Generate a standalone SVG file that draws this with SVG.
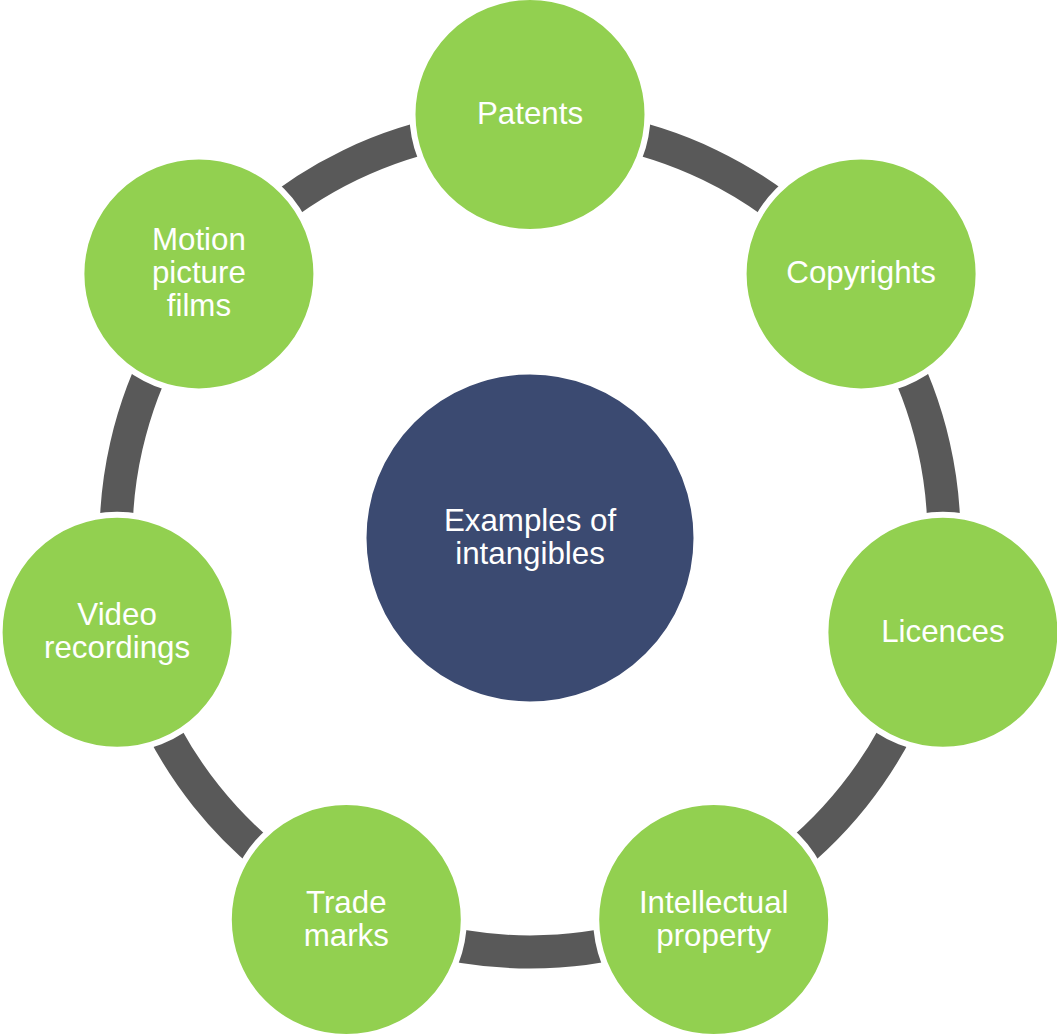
<svg xmlns="http://www.w3.org/2000/svg" width="1057" height="1035" viewBox="0 0 1057 1035">
<style>
.ring{fill:none;stroke:#595959;stroke-width:33;stroke-linecap:butt}
.node{fill:#92D050;stroke:#FFFFFF;stroke-width:6}
.hub{fill:#3B4A71;stroke:#FFFFFF;stroke-width:3}
.lbl{font-family:"Liberation Sans",Arial,sans-serif;font-size:31.3px;fill:#FFFFFF;text-anchor:middle}
</style>
<rect width="1057" height="1035" fill="#FFFFFF"/>
<g id="connectors">
<path class="ring" d="M601.9,130.3 A414,414 0 0 1 804.0,227.6"/>
<path class="ring" d="M893.6,340.0 A414,414 0 0 1 943.5,558.7"/>
<path class="ring" d="M911.5,698.8 A414,414 0 0 1 771.7,874.1"/>
<path class="ring" d="M642.1,936.5 A414,414 0 0 1 417.9,936.5"/>
<path class="ring" d="M288.3,874.1 A414,414 0 0 1 148.5,698.8"/>
<path class="ring" d="M116.5,558.7 A414,414 0 0 1 166.4,340.0"/>
<path class="ring" d="M256.0,227.6 A414,414 0 0 1 458.1,130.3"/>
</g>
<g id="hub">
<circle class="hub" cx="530" cy="538" r="165"/>
<text class="lbl" x="530" y="531">Examples of</text>
<text class="lbl" x="530" y="564">intangibles</text>
</g>
<g id="patents">
<circle class="node" cx="530" cy="114.5" r="117.5"/>
<text class="lbl" x="530" y="124">Patents</text>
</g>
<g id="copyrights">
<circle class="node" cx="861.1" cy="273.9" r="117.5"/>
<text class="lbl" x="861.1" y="283.4">Copyrights</text>
</g>
<g id="licences">
<circle class="node" cx="942.9" cy="632.2" r="117.5"/>
<text class="lbl" x="942.9" y="641.7">Licences</text>
</g>
<g id="intellectual-property">
<circle class="node" cx="713.7" cy="919.6" r="117.5"/>
<text class="lbl" x="713.7" y="912.6">Intellectual</text>
<text class="lbl" x="713.7" y="945.6">property</text>
</g>
<g id="trade-marks">
<circle class="node" cx="346.3" cy="919.6" r="117.5"/>
<text class="lbl" x="346.3" y="912.6">Trade</text>
<text class="lbl" x="346.3" y="945.6">marks</text>
</g>
<g id="video-recordings">
<circle class="node" cx="117.1" cy="632.2" r="117.5"/>
<text class="lbl" x="117.1" y="625.2">Video</text>
<text class="lbl" x="117.1" y="658.2">recordings</text>
</g>
<g id="motion-picture-films">
<circle class="node" cx="198.9" cy="273.9" r="117.5"/>
<text class="lbl" x="198.9" y="250.4">Motion</text>
<text class="lbl" x="198.9" y="283.4">picture</text>
<text class="lbl" x="198.9" y="316.4">films</text>
</g>
</svg>
